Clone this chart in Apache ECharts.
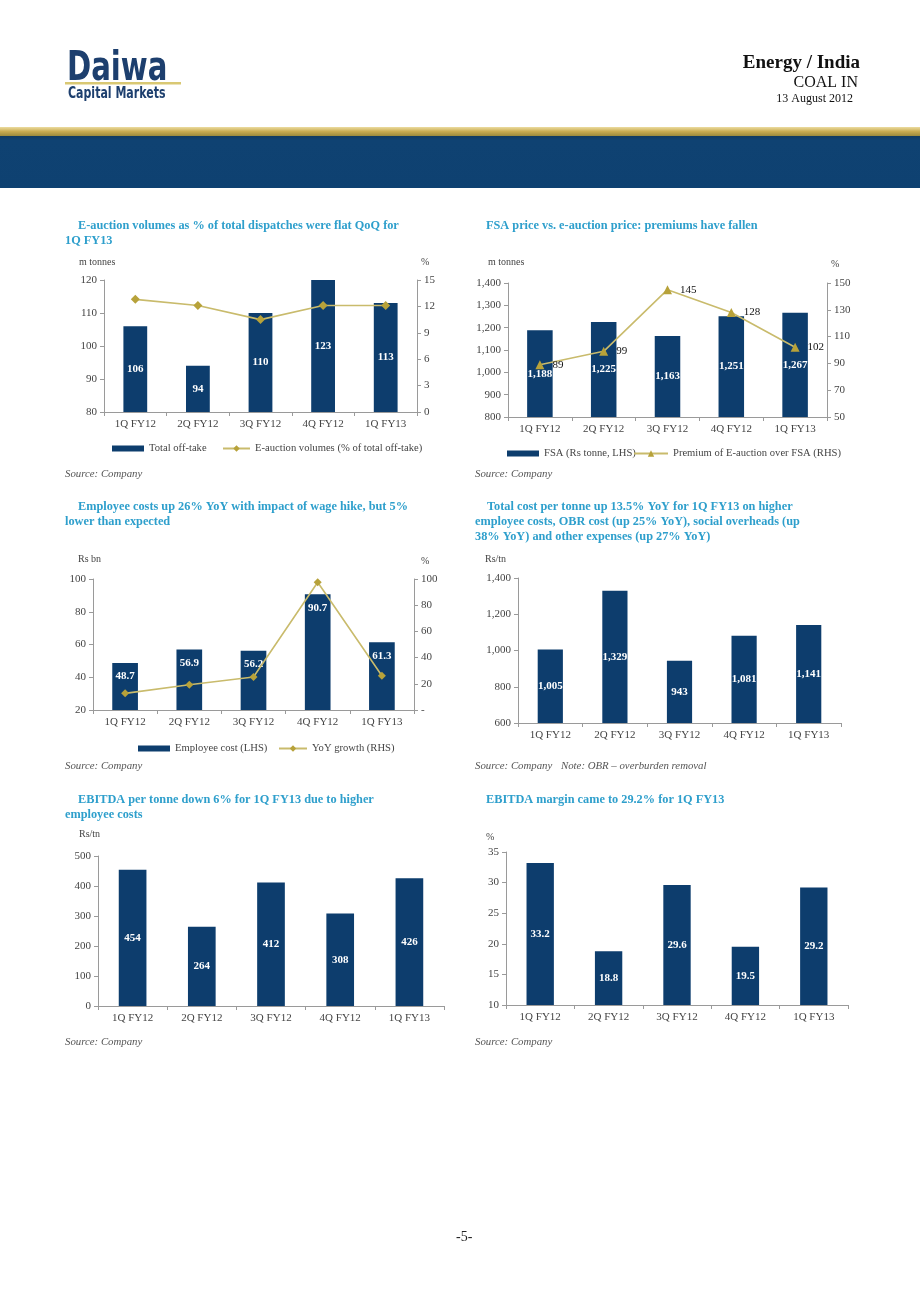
<!DOCTYPE html>
<html>
<head>
<meta charset="utf-8">
<script src="https://cdn.jsdelivr.net/npm/echarts@6/dist/echarts.min.js"></script>
<style>
html,body{margin:0;padding:0;background:#fff;}
#c{width:920px;height:1302px;}
</style>
</head>
<body>
<div id="c"></div>
<script>
const categories = ['1Q FY12','2Q FY12','3Q FY12','4Q FY12','1Q FY13'];
const totalOfftake = [106, 94, 110, 123, 113];
const eauctionPct = [12.8, 12.1, 10.5, 12.1, 12.1];
const fsaPrice = [1188, 1225, 1163, 1251, 1267];
const premiumPct = [89, 99, 145, 128, 102];
const employeeCost = [48.7, 56.9, 56.2, 90.7, 61.3];
const yoyGrowth = [12.7, 19.3, 25.2, 97.5, 26.2];
const costPerTonne = [1005, 1329, 943, 1081, 1141];
const ebitdaPerTonne = [454, 264, 412, 308, 426];
const ebitdaMargin = [33.2, 18.8, 29.6, 19.5, 29.2];

const SERIF = "'Liberation Serif','Times New Roman',serif";
const NARROW = "'Liberation Sans Narrow','DejaVu Sans Condensed','Liberation Sans',sans-serif";
const NAVY = '#0d3d6d';
const GOLD = '#c9bb6c';
const GOLDM = '#b7a23a';
const TEAL = '#2e9fcc';
const AX = '#9a9a9a';
const LBL = '#444';

const chart = echarts.init(document.getElementById('c'), null, {renderer:'canvas'});

function fmtComma(v){ return String(v).replace(/\B(?=(\d{3})+(?!\d))/g, ','); }

const grids = [
  {left:104, top:280, width:313, height:132},
  {left:508, top:283, width:319, height:134},
  {left:93,  top:579, width:321, height:131},
  {left:518, top:578, width:323, height:145},
  {left:98,  top:856, width:346, height:150},
  {left:506, top:852, width:342, height:153}
];

function xAx(i){
  return {
    type:'category', gridIndex:i, data:categories,
    axisLine:{lineStyle:{color:AX}},
    axisTick:{show:true, length:4, lineStyle:{color:AX}},
    axisLabel:{color:LBL, fontFamily:SERIF, fontSize:11, margin:7}
  };
}
function yAx(i, min, max, interval, pos, fmt){
  return {
    type:'value', gridIndex:i, min:min, max:max, interval:interval, position:pos||'left',
    splitLine:{show:false},
    axisLine:{show:true, lineStyle:{color:AX}},
    axisTick:{show:true, length:4, lineStyle:{color:AX}},
    axisLabel:{color:LBL, fontFamily:SERIF, fontSize:11, margin:7, formatter:fmt||'{value}'}
  };
}
function barS(x, y, data, name, fmt, bw, pos){
  return {
    type:'bar', name:name, xAxisIndex:x, yAxisIndex:y, data:data, barWidth:bw||'38%',
    itemStyle:{color:NAVY}, clip:true, z:2,
    label:{show:true, position:pos||'inside', distance:8, color:'#fff', fontFamily:SERIF, fontWeight:'bold', fontSize:11,
      formatter: p => fmt ? fmt(p.value) : String(p.value)}
  };
}
function lineS(x, y, data, name, symbol, size, label){
  return {
    type:'line', name:name, xAxisIndex:x, yAxisIndex:y, data:data,
    symbol:symbol, symbolSize:size,
    lineStyle:{color:GOLD, width:1.6}, itemStyle:{color:GOLDM},
    label: label ? {show:true, position:'right', distance:8, color:'#111', fontFamily:SERIF, fontSize:11} : {show:false},
    z:5
  };
}
function legendItem(left, top, name, isBar, w){
  return {
    left:left, top:top, data:[ isBar ? {name:name, icon:'rect'} : {name:name} ],
    itemWidth: w || (isBar ? 32 : 30), itemHeight: isBar ? 6 : 8, itemGap:0,
    textStyle:{color:LBL, fontFamily:SERIF, fontSize:10.6},
    selectedMode:false
  };
}

function txt(x, y, s, opt){
  opt = opt || {};
  return {type:'text', left:x, top:y, silent:true, style:{
    text:s, fill:opt.fill||'#222', font: (opt.style||'') + ' ' + (opt.weight||'normal') + ' ' + (opt.size||11) + 'px ' + (opt.family||SERIF),
    textAlign: opt.align||'left'
  }};
}
function txtR(xRight, y, s, opt){
  opt = opt || {};
  return {type:'text', right:920-xRight, top:y, silent:true, style:{
    text:s, fill:opt.fill||'#222', font:(opt.weight||'normal') + ' ' + (opt.size||11) + 'px ' + (opt.family||SERIF)
  }};
}
function logoTxt(x, y, s, size, sx){
  return {type:'text', x:x, y:y, scaleX:sx, originX:0, originY:0, silent:true, style:{
    text:s, fill:'#1d3f6e', font:'bold ' + size + 'px ' + NARROW, textVerticalAlign:'top'
  }};
}
const tOpt = {fill:TEAL, weight:'bold', size:12.3};
const sOpt = {fill:'#555', style:'italic', size:10.8};

const graphics = [
  // header logo
  logoTxt(67, 50, 'Daiwa', 40, 0.81),
  {type:'rect', shape:{x:65, y:82, width:116, height:2.5}, style:{fill:'#d9c873'}, silent:true},
  logoTxt(68, 87, 'Capital Markets', 15, 0.815),
  txtR(860, 54, 'Energy / India', {weight:'bold', size:19, fill:'#111'}),
  txtR(858, 75, 'COAL IN', {size:16, fill:'#111'}),
  txtR(853, 93, '13 August 2012', {size:12, fill:'#111'}),
  // stripes
  {type:'rect', shape:{x:0, y:127, width:920, height:9}, silent:true,
    style:{fill:new echarts.graphic.LinearGradient(0,0,0,1,[{offset:0,color:'#ecdca0'},{offset:0.5,color:'#c9ab50'},{offset:1,color:'#9c8a3c'}])}},
  {type:'rect', shape:{x:0, y:136, width:920, height:52}, silent:true,
    style:{fill:new echarts.graphic.LinearGradient(0,0,0,1,[{offset:0,color:'#123a5e'},{offset:0.08,color:'#0f4272'},{offset:1,color:'#0e4171'}])}},
  // titles
  txt(78, 220, 'E-auction volumes as % of total dispatches were flat QoQ for', tOpt),
  txt(65, 235, '1Q FY13', tOpt),
  txt(486, 220, 'FSA price vs. e-auction price: premiums have fallen', tOpt),
  txt(78, 501, 'Employee costs up 26% YoY with impact of wage hike, but 5%', tOpt),
  txt(65, 516, 'lower than expected', tOpt),
  txt(487, 501, 'Total cost per tonne up 13.5% YoY for 1Q FY13 on higher', tOpt),
  txt(475, 516, 'employee costs, OBR cost (up 25% YoY), social overheads (up', tOpt),
  txt(475, 531, '38% YoY) and other expenses (up 27% YoY)', tOpt),
  txt(78, 794, 'EBITDA per tonne down 6% for 1Q FY13 due to higher', tOpt),
  txt(65, 809, 'employee costs', tOpt),
  txt(486, 794, 'EBITDA margin came to 29.2% for 1Q FY13', tOpt),
  // axis units
  txt(79, 257, 'm tonnes', {fill:LBL, size:10}),
  txt(421, 257, '%', {fill:LBL, size:10}),
  txt(488, 257, 'm tonnes', {fill:LBL, size:10}),
  txt(831, 259, '%', {fill:LBL, size:10}),
  txt(78, 554, 'Rs bn', {fill:LBL, size:10}),
  txt(421, 556, '%', {fill:LBL, size:10}),
  txt(485, 554, 'Rs/tn', {fill:LBL, size:10}),
  txt(79, 829, 'Rs/tn', {fill:LBL, size:10}),
  txt(486, 832, '%', {fill:LBL, size:10}),
  // sources
  txt(65, 469, 'Source: Company', sOpt),
  txt(475, 469, 'Source: Company', sOpt),
  txt(65, 761, 'Source: Company', sOpt),
  txt(475, 761, 'Source: Company', sOpt),
  txt(561, 761, 'Note: OBR \u2013 overburden removal', sOpt),
  txt(65, 1037, 'Source: Company', sOpt),
  txt(475, 1037, 'Source: Company', sOpt),
  // footer
  txt(456, 1230, '-5-', {size:14, fill:'#222', align:'center'})
];

const option = {
  animation:false,
  backgroundColor:'#fff',
  grid: grids,
  xAxis: [0,1,2,3,4,5].map(xAx),
  yAxis: [
    yAx(0, 80, 120, 10, 'left'),
    yAx(0, 0, 15, 3, 'right'),
    yAx(1, 800, 1400, 100, 'left', fmtComma),
    yAx(1, 50, 150, 20, 'right'),
    yAx(2, 20, 100, 20, 'left'),
    yAx(2, 0, 100, 20, 'right', v => v === 0 ? '-' : String(v)),
    yAx(3, 600, 1400, 200, 'left', fmtComma),
    yAx(4, 0, 500, 100, 'left'),
    yAx(5, 10, 35, 5, 'left')
  ],
  legend: [
    legendItem(107, 438, 'Total off-take', true),
    legendItem(217, 438, 'E-auction volumes (% of total off-take)', false, 27),
    legendItem(502, 443, 'FSA (Rs tonne, LHS)', true),
    legendItem(628, 443, 'Premium of E-auction over FSA (RHS)', false, 34),
    legendItem(133, 738, 'Employee cost (LHS)', true),
    legendItem(273, 738, 'YoY growth (RHS)', false, 28)
  ],
  series: [
    barS(0, 0, totalOfftake, 'Total off-take'),
    lineS(0, 1, eauctionPct, 'E-auction volumes (% of total off-take)', 'diamond', 9, false),
    barS(1, 2, fsaPrice, 'FSA (Rs tonne, LHS)', fmtComma, '40%'),
    lineS(1, 3, premiumPct, 'Premium of E-auction over FSA (RHS)', 'triangle', 9, true),
    barS(2, 4, employeeCost, 'Employee cost (LHS)', v => v.toFixed(1), '40%', 'insideTop'),
    lineS(2, 5, yoyGrowth, 'YoY growth (RHS)', 'diamond', 8, false),
    barS(3, 6, costPerTonne, 'Cost per tonne', fmtComma, '39%'),
    barS(4, 7, ebitdaPerTonne, 'EBITDA per tonne', null, '40%'),
    barS(5, 8, ebitdaMargin, 'EBITDA margin', v => v.toFixed(1), '40%')
  ],
  graphic: graphics
};
chart.setOption(option);
</script>
</body>
</html>
